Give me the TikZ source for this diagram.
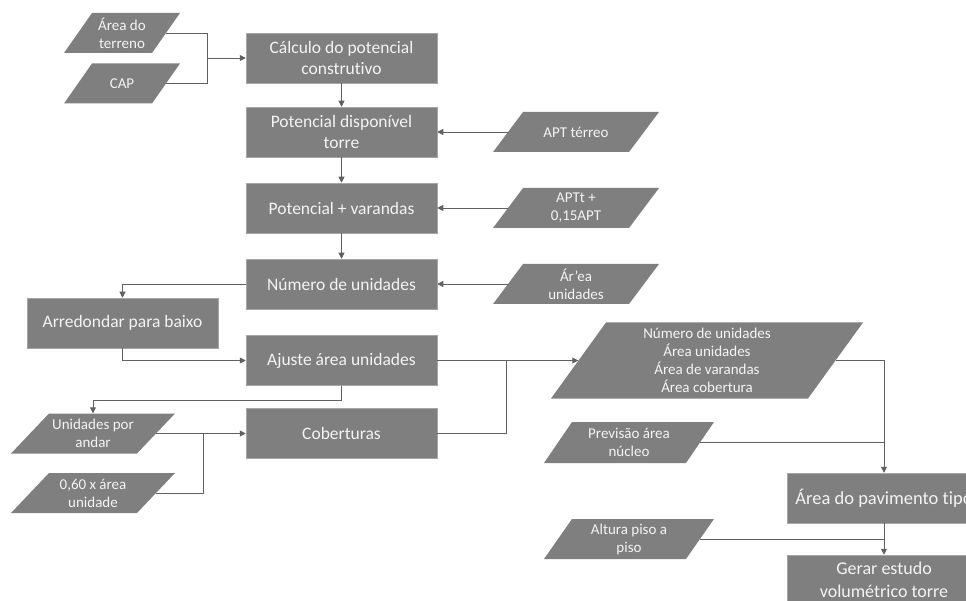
\documentclass[tikz,border=0pt]{standalone}
\usepackage{fontspec}
\setmainfont[Ligatures=NoCommon]{Carlito}
\usetikzlibrary{arrows.meta}
\definecolor{boxgray}{HTML}{7F7F7F}
\definecolor{edgegray}{HTML}{A6A6A6}
\definecolor{linegray}{HTML}{606060}
\definecolor{txt}{HTML}{F4F4F4}

% input/output parallelogram: name, centre x, centre y, mid width, height, slant, text
\newcommand\iobox[7]{%
  \fill[boxgray] (#2-#4/2+#6/2,#3-#5/2) -- (#2+#4/2+#6/2,#3-#5/2)
    -- (#2+#4/2-#6/2,#3+#5/2) -- (#2-#4/2-#6/2,#3+#5/2) -- cycle;
  \node[io, minimum width=#4pt, minimum height=#5pt] (#1) at (#2,#3) {#7};}

\begin{document}
\begin{tikzpicture}[x=1pt,y=-1pt,
  procbox/.style={fill=boxgray, draw=edgegray, line width=0.5pt, text=txt,
    minimum width=191pt, minimum height=50pt, inner sep=0pt, align=center,
    font=\fontsize{17.5}{21.5}\selectfont},
  io/.style={inner sep=0pt, text=txt, align=center,
    font=\fontsize{15}{18}\selectfont},
  link/.style={draw=linegray, line width=0.9pt},
  arr/.style={link, -{Triangle[length=6pt,width=6pt]}}]

\useasboundingbox (0,0) rectangle (966,601);
\clip (0,0) rectangle (966,601);

% process boxes
\node[procbox] (calc)   at (341.5,58)   {Cálculo do potencial\\construtivo};
\node[procbox] (pdisp)  at (341.5,132)  {Potencial disponível\\torre};
\node[procbox] (pvar)   at (341.5,208)  {Potencial + varandas};
\node[procbox] (nunid)  at (341.5,284)  {Número de unidades};
\node[procbox] (arred)  at (122.5,323)  {Arredondar para baixo};
\node[procbox] (ajuste) at (341.5,360.5){Ajuste área unidades};
\node[procbox] (cob)    at (341.5,433.5){Coberturas};
\node[procbox, minimum width=194pt, font=\fontsize{18.5}{23}\selectfont]
  (pav)   at (884,498) {Área do pavimento tipo};
\node[procbox, minimum width=194pt, font=\fontsize{18}{23}\selectfont]
  (gerar) at (884,580) {Gerar estudo\\volumétrico torre};

% data parallelograms
\iobox{terreno}{122}{33}{88}{40}{28}{Área do\\terreno}
\iobox{cap}{122}{83.5}{88}{40}{28}{CAP}
\iobox{apt}{576}{132}{136}{40}{30}{APT térreo}
\iobox{aptt}{576}{208}{136}{40}{30}{APTt +\\0,15APT}
\iobox{arunid}{576}{284}{136}{40}{30}{Ár'ea\\unidades}
\iobox{unand}{93}{433.5}{126}{40}{38}{Unidades por\\andar}
\iobox{sessenta}{93}{493}{126}{40}{38}{0,60 x área\\unidade}
\iobox{big}{707}{360.5}{257}{76}{55}{Número de unidades\\Área unidades\\Área de varandas\\Área cobertura}
\iobox{nucleo}{629}{442.5}{142}{41}{28}{Previsão área\\núcleo}
\iobox{altura}{629}{539}{142}{40}{28}{Altura piso a\\piso}

% junction points of the merging lines
\coordinate (jA) at (207,58);
\coordinate (jB) at (203,433.5);
\coordinate (jC) at (506,360.5);

% connectors
\draw[link] (terreno.east) -| (jA);
\draw[link] (cap.east) -| (jA);
\draw[arr] (jA) -- (calc.west);
\draw[arr] (calc.south) -- (pdisp.north);
\draw[arr] (pdisp.south) -- (pvar.north);
\draw[arr] (pvar.south) -- (nunid.north);
\draw[arr] (apt.west) -- (pdisp.east);
\draw[arr] (aptt.west) -- (pvar.east);
\draw[arr] (arunid.west) -- (nunid.east);
\draw[arr] (nunid.west) -| (arred.north);
\draw[arr] (arred.south) |- (ajuste.west);
\draw[arr] (ajuste.south) -- ++(0,15) -| (unand.north);
\draw[arr] (unand.east) -- (cob.west);
\draw[link] (sessenta.east) -| (jB);
\draw[link] (cob.east) -| (jC);
\draw[arr] (ajuste.east) -- (big.west);
\draw[arr] (big.east) -| (pav.north);
\draw[link] (nucleo.east) -- (nucleo.east -| pav.north);
\draw[arr] (pav.south) -- (gerar.north);
\draw[link] (altura.east) -- (altura.east -| pav.south);
\end{tikzpicture}
\end{document}
